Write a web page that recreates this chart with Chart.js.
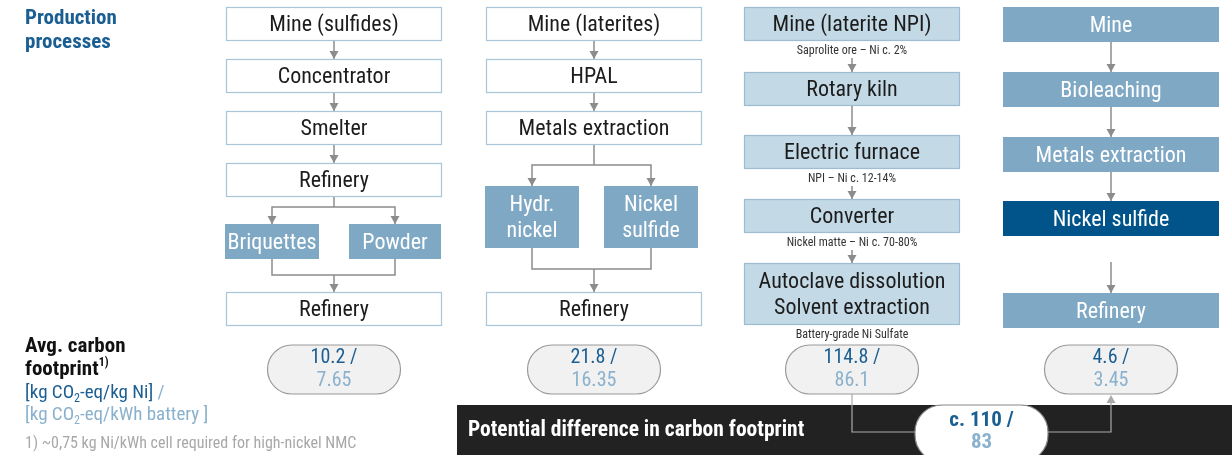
<!DOCTYPE html>
<html>
<head>
<meta charset="utf-8">
<script src="https://cdn.jsdelivr.net/npm/chart.js@4.4.0/dist/chart.umd.min.js"></script>
<style>
    html, body { margin: 0; padding: 0; background: #fff; }
    #wrap { width: 1232px; height: 455px; }
</style>
</head>
<body>
<div id="wrap"><canvas id="flowChart" width="1232" height="455"></canvas></div>
<script>
/* ===========================================
   Nickel production routes - carbon footprint
   =========================================== */

// ---- data ----
const routes = ['Sulfide ore', 'Laterite (HPAL)', 'Laterite (NPI)', 'Bioleaching'];
const mainSteps = [
    ['Mine (sulfides)', 'Concentrator', 'Smelter', 'Refinery'],
    ['Mine (laterites)', 'HPAL', 'Metals extraction'],
    ['Mine (laterite NPI)', 'Rotary kiln', 'Electric furnace', 'Converter', 'Autoclave dissolution\nSolvent extraction'],
    ['Mine', 'Bioleaching', 'Metals extraction', 'Nickel sulfide', 'Refinery']
];
const branchSteps = [
    ['Briquettes', 'Powder'],
    ['Hydr.\nnickel', 'Nickel\nsulfide'],
    [],
    []
];
const finalSteps = ['Refinery', 'Refinery', null, null];
const npiNotes = ['Saprolite ore – Ni c. 2%', null, 'NPI – Ni c. 12-14%', 'Nickel matte – Ni c. 70-80%', 'Battery-grade Ni Sulfate'];
const footprintNi = [10.2, 21.8, 114.8, 4.6];
const footprintKwh = [7.65, 16.35, 86.1, 3.45];
const diffNi = 110;
const diffKwh = 83;

// ---- layout & style ----
const FONT = "'Liberation Sans Narrow', 'Roboto Condensed', 'Arial Narrow', Roboto, sans-serif";
const W = 1232, H = 455;
const colLeft = [226, 486, 744, 1003];
const boxW = 216;
const rowTops = [
    [7, 59, 111, 163],
    [7, 59, 111],
    [7, 72, 135, 199, 263],
    [7, 72, 137, 201, 293]
];
const rowHeights = [
    [34, 34, 34, 34],
    [34, 34, 34],
    [34, 34, 34, 34, 62],
    [35, 35, 35, 35, 35]
];
const branchBoxes = [
    { top: 224, bottom: 259, xs: [[225, 319], [349, 441]], splitY: 207, joinY: 275 },
    { top: 186, bottom: 248, xs: [[485, 579], [604, 698]], splitY: 165, joinY: 269 }
];
const finalBox = { top: 292, bottom: 326 };
const pill = { top: 345, bottom: 394, w: 133 };
const BOX_FONT = 22;

const C = {
    blue: '#1b5e92',
    lightBlue: '#8ab1cd',
    border: '#a9c5d8',
    npiFill: '#c3d9e6',
    npiBorder: '#9cbcd1',
    midFill: '#7fa8c4',
    darkFill: '#00548a',
    arrow: '#8c8c8c',
    text: '#1c1c1c'
};

// ---- drawing helpers ----
function lines(ctx, pts, withHead) {
    ctx.save();
    ctx.strokeStyle = C.arrow;
    ctx.fillStyle = C.arrow;
    ctx.lineWidth = 1.5;
    ctx.beginPath();
    ctx.moveTo(pts[0][0], pts[0][1]);
    for (let i = 1; i < pts.length; i++) ctx.lineTo(pts[i][0], pts[i][1]);
    ctx.stroke();
    if (withHead) {
        const [x1, y1] = pts[pts.length - 2];
        const [x2, y2] = pts[pts.length - 1];
        const a = Math.atan2(y2 - y1, x2 - x1);
        ctx.translate(x2, y2);
        ctx.rotate(a);
        ctx.beginPath();
        ctx.moveTo(0, 0);
        ctx.lineTo(-8, -4.5);
        ctx.lineTo(-8, 4.5);
        ctx.closePath();
        ctx.fill();
    }
    ctx.restore();
}

function box(ctx, l, t, r, b, fill, stroke, label, color, size) {
    ctx.save();
    ctx.fillStyle = fill;
    ctx.fillRect(l, t, r - l, b - t);
    if (stroke) {
        ctx.strokeStyle = stroke;
        ctx.lineWidth = 1.2;
        ctx.strokeRect(l + 0.5, t + 0.5, r - l - 1, b - t - 1);
    }
    const rows = label.split('\n');
    const lh = size * 1.2;
    ctx.font = size + 'px ' + FONT;
    ctx.fillStyle = color;
    ctx.textAlign = 'center';
    ctx.textBaseline = 'middle';
    rows.forEach((ln, i) => {
        ctx.fillText(ln, (l + r) / 2, (t + b) / 2 + 1.5 + (i - (rows.length - 1) / 2) * lh);
    });
    ctx.restore();
}

function roundRect(ctx, l, t, r, b, rad) {
    ctx.beginPath();
    ctx.moveTo(l + rad, t);
    ctx.lineTo(r - rad, t);
    ctx.arc(r - rad, t + rad, rad, -Math.PI / 2, 0);
    ctx.lineTo(r, b - rad);
    ctx.arc(r - rad, b - rad, rad, 0, Math.PI / 2);
    ctx.lineTo(l + rad, b);
    ctx.arc(l + rad, b - rad, rad, Math.PI / 2, Math.PI);
    ctx.lineTo(l, t + rad);
    ctx.arc(l + rad, t + rad, rad, Math.PI, Math.PI * 1.5);
    ctx.closePath();
}

// parts: [{t, size, bold, color, dy}]
function rich(ctx, x, y, parts) {
    ctx.save();
    ctx.textAlign = 'left';
    ctx.textBaseline = 'alphabetic';
    let cx = x;
    parts.forEach(p => {
        ctx.font = (p.bold ? 'bold ' : '') + p.size + 'px ' + FONT;
        ctx.fillStyle = p.color;
        ctx.fillText(p.t, cx, y + (p.dy || 0));
        cx += ctx.measureText(p.t).width;
    });
    ctx.restore();
}

function text(ctx, str, x, y, size, color, opts) {
    opts = opts || {};
    ctx.save();
    ctx.font = (opts.bold ? 'bold ' : '') + size + 'px ' + FONT;
    ctx.fillStyle = color;
    ctx.textAlign = opts.align || 'center';
    ctx.textBaseline = 'middle';
    ctx.fillText(str, x, y);
    ctx.restore();
}

// ---- plugin that draws the flow diagram through the chart scales ----
const flowPlugin = {
    id: 'flowDiagram',
    afterDraw(chart) {
        const ctx = chart.ctx;
        const sx = v => chart.scales.x.getPixelForValue(v);
        const sy = v => chart.scales.y.getPixelForValue(v);

        // left headings
        text(ctx, 'Production', sx(25), sy(19), 21, C.blue, { bold: true, align: 'left' });
        text(ctx, 'processes', sx(25), sy(43), 21, C.blue, { bold: true, align: 'left' });

        rich(ctx, sx(25), sy(352), [{ t: 'Avg. carbon', size: 21, bold: true, color: '#111' }]);
        rich(ctx, sx(25), sy(375), [
            { t: 'footprint', size: 21, bold: true, color: '#111' },
            { t: '1)', size: 12, bold: true, color: '#111', dy: -9 }
        ]);
        rich(ctx, sx(25), sy(398), [
            { t: '[kg CO', size: 19, color: C.blue },
            { t: '2', size: 12, color: C.blue, dy: 4 },
            { t: '-eq/kg Ni]', size: 19, color: C.blue },
            { t: ' /', size: 19, color: C.lightBlue }
        ]);
        rich(ctx, sx(25), sy(420), [
            { t: '[kg CO', size: 19, color: C.lightBlue },
            { t: '2', size: 12, color: C.lightBlue, dy: 4 },
            { t: '-eq/kWh battery ]', size: 19, color: C.lightBlue }
        ]);
        rich(ctx, sx(25), sy(448), [{ t: '1) ~0,75 kg Ni/kWh cell required for high-nickel NMC', size: 16, color: '#a8a8a8' }]);

        // process columns
        mainSteps.forEach((steps, c) => {
            const l = sx(colLeft[c]), r = sx(colLeft[c] + boxW), cx = (l + r) / 2;
            steps.forEach((label, i) => {
                const t = sy(rowTops[c][i]), b = sy(rowTops[c][i] + rowHeights[c][i]);
                let fill = '#fff', stroke = C.border, color = C.text;
                if (c === 2) { fill = C.npiFill; stroke = C.npiBorder; }
                if (c === 3) { fill = label === 'Nickel sulfide' ? C.darkFill : C.midFill; stroke = null; color = '#fff'; }
                box(ctx, l, t, r, b, fill, stroke, label, color, BOX_FONT);

                // connector to the next step
                if (i < steps.length - 1) {
                    const nextTop = sy(rowTops[c][i + 1]);
                    let start = b;
                    if (c === 2 && npiNotes[i]) {
                        text(ctx, npiNotes[i], cx, b + 10, 12, '#333');
                        start = b + 17;
                    }
                    if (c === 3 && label === 'Nickel sulfide') start = sy(262);
                    lines(ctx, [[cx, start], [cx, nextTop]], true);
                } else if (c === 2 && npiNotes[i]) {
                    text(ctx, npiNotes[i], cx, b + 10, 12, '#333');
                }
            });

            // branches + final refinery
            if (branchSteps[c].length) {
                const br = branchBoxes[c];
                const lastB = sy(rowTops[c][steps.length - 1] + rowHeights[c][steps.length - 1]);
                const bx = br.xs.map(([a, z]) => (sx(a) + sx(z)) / 2);
                lines(ctx, [[cx, lastB], [cx, sy(br.splitY)]], false);
                lines(ctx, [[cx, sy(br.splitY)], [bx[0], sy(br.splitY)], [bx[0], sy(br.top)]], true);
                lines(ctx, [[cx, sy(br.splitY)], [bx[1], sy(br.splitY)], [bx[1], sy(br.top)]], true);
                branchSteps[c].forEach((label, k) => {
                    box(ctx, sx(br.xs[k][0]), sy(br.top), sx(br.xs[k][1]), sy(br.bottom), C.midFill, null, label, '#fff', BOX_FONT);
                });
                lines(ctx, [[bx[0], sy(br.bottom)], [bx[0], sy(br.joinY)], [bx[1], sy(br.joinY)], [bx[1], sy(br.bottom)]], false);
                lines(ctx, [[cx, sy(br.joinY)], [cx, sy(finalBox.top)]], true);
                box(ctx, l, sy(finalBox.top), r, sy(finalBox.bottom), '#fff', C.border, finalSteps[c], C.text, BOX_FONT);
            }
        });

        // footprint pills
        const pillCx = colLeft.map(v => sx(v + boxW / 2));
        routes.forEach((route, c) => {
            const cx = pillCx[c];
            const l = cx - pill.w / 2, r = cx + pill.w / 2;
            const t = sy(pill.top), b = sy(pill.bottom);
            ctx.save();
            roundRect(ctx, l, t, r, b, (b - t) / 2);
            ctx.fillStyle = '#f1f1f1';
            ctx.fill();
            ctx.strokeStyle = '#9a9a9a';
            ctx.lineWidth = 1.2;
            ctx.stroke();
            ctx.restore();
            text(ctx, footprintNi[c] + ' /', cx, t + 13, 20, C.blue);
            text(ctx, String(footprintKwh[c]), cx, t + 36, 20, C.lightBlue);
        });

        // bottom band
        ctx.save();
        ctx.fillStyle = '#222222';
        ctx.fillRect(sx(457), sy(405), sx(W) - sx(457), sy(H) - sy(405));
        ctx.restore();
        text(ctx, 'Potential difference in carbon footprint', sx(468), sy(431), 21.5, '#fff', { bold: true, align: 'left' });

        // difference connector & pill
        const dl = sx(915), dr = sx(1048), dt = sy(405), db = sy(462);
        ctx.save();
        ctx.strokeStyle = '#aaaaaa';
        ctx.lineWidth = 1.2;
        ctx.beginPath();
        ctx.moveTo(pillCx[2], sy(pill.bottom));
        ctx.lineTo(pillCx[2], sy(432));
        ctx.lineTo(dl, sy(432));
        ctx.moveTo(dr, sy(432));
        ctx.lineTo(pillCx[3], sy(432));
        ctx.lineTo(pillCx[3], sy(pill.bottom) + 6);
        ctx.stroke();
        ctx.fillStyle = '#aaaaaa';
        ctx.beginPath();
        ctx.moveTo(pillCx[3], sy(pill.bottom) + 1);
        ctx.lineTo(pillCx[3] - 4.5, sy(pill.bottom) + 9);
        ctx.lineTo(pillCx[3] + 4.5, sy(pill.bottom) + 9);
        ctx.closePath();
        ctx.fill();
        roundRect(ctx, dl, dt, dr, db, 27);
        ctx.fillStyle = '#fff';
        ctx.fill();
        ctx.strokeStyle = '#888';
        ctx.stroke();
        ctx.restore();
        const dcx = (dl + dr) / 2;
        text(ctx, 'c. ' + diffNi + ' /', dcx, sy(421), 21, C.blue, { bold: true });
        text(ctx, String(diffKwh), dcx, sy(443), 21, C.lightBlue, { bold: true });
    }
};

document.addEventListener('DOMContentLoaded', function () {
    new Chart(document.getElementById('flowChart'), {
        type: 'scatter',
        data: {
            datasets: [{ label: 'routes', data: [], pointRadius: 0 }]
        },
        options: {
            responsive: false,
            animation: false,
            devicePixelRatio: 1,
            events: [],
            layout: { padding: 0 },
            plugins: {
                legend: { display: false },
                tooltip: { enabled: false }
            },
            scales: {
                x: { type: 'linear', min: 0, max: W, display: false },
                y: { type: 'linear', min: 0, max: H, reverse: true, display: false }
            }
        },
        plugins: [flowPlugin]
    });
});
</script>
</body>
</html>
